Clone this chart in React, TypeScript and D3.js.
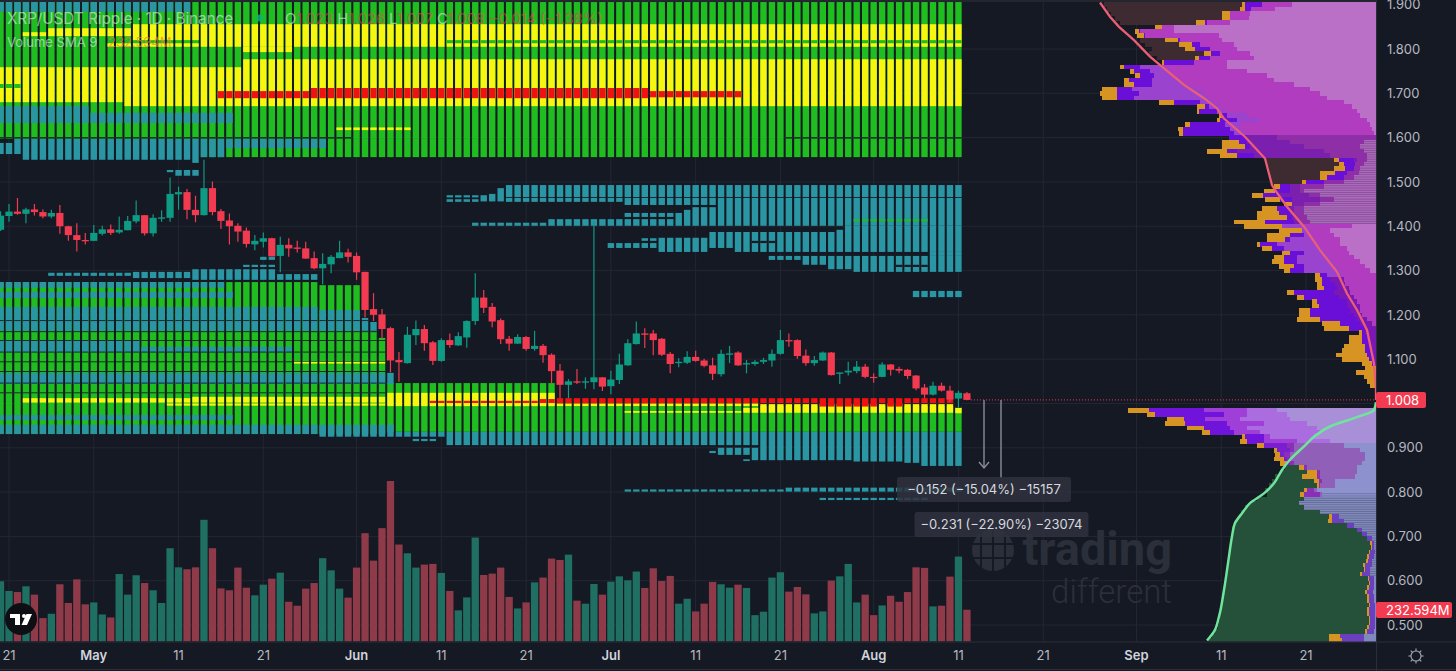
import React from "react";
import * as d3 from "d3";

const firstDay = new Date(Date.UTC(2022, 3, 20));

// open, high, low, close, one row a day from the first visible session
const candles: number[][] = [
[1.392,1.434,1.389,1.424],[1.423,1.450,1.410,1.433],[1.433,1.464,1.426,1.428],[1.428,1.442,1.407,1.438],[1.438,1.450,1.424,1.432],
[1.432,1.438,1.418,1.422],[1.422,1.437,1.418,1.430],[1.430,1.448,1.383,1.400],[1.400,1.401,1.367,1.380],[1.380,1.407,1.343,1.369],
[1.369,1.385,1.359,1.366],[1.367,1.403,1.367,1.385],[1.383,1.401,1.379,1.393],[1.393,1.404,1.380,1.385],[1.386,1.422,1.383,1.392],
[1.391,1.423,1.391,1.412],[1.411,1.458,1.407,1.425],[1.425,1.425,1.379,1.384],[1.384,1.427,1.377,1.419],[1.417,1.436,1.410,1.420],
[1.419,1.510,1.410,1.473],[1.472,1.489,1.437,1.477],[1.477,1.484,1.416,1.437],[1.437,1.469,1.409,1.425],[1.425,1.550,1.424,1.486],
[1.486,1.501,1.425,1.432],[1.434,1.439,1.394,1.412],[1.413,1.429,1.359,1.400],[1.401,1.407,1.365,1.388],[1.390,1.397,1.352,1.360],
[1.359,1.380,1.346,1.367],[1.365,1.386,1.352,1.373],[1.373,1.374,1.332,1.332],[1.333,1.376,1.296,1.358],[1.358,1.373,1.331,1.350],
[1.352,1.367,1.341,1.349],[1.350,1.365,1.326,1.327],[1.328,1.343,1.303,1.305],[1.305,1.339,1.269,1.315],[1.314,1.335,1.294,1.331],
[1.328,1.367,1.328,1.341],[1.341,1.349,1.318,1.331],[1.333,1.341,1.279,1.296],[1.297,1.297,1.194,1.211],[1.213,1.249,1.186,1.200],
[1.201,1.213,1.146,1.168],[1.170,1.173,1.070,1.097],[1.098,1.116,1.049,1.093],[1.091,1.173,1.090,1.155],[1.154,1.187,1.132,1.168],
[1.168,1.177,1.119,1.136],[1.138,1.141,1.087,1.096],[1.096,1.147,1.094,1.143],[1.143,1.158,1.126,1.132],[1.131,1.161,1.130,1.152],
[1.149,1.188,1.126,1.186],[1.186,1.294,1.177,1.239],[1.239,1.256,1.204,1.216],[1.218,1.227,1.172,1.185],[1.188,1.192,1.134,1.145],
[1.146,1.152,1.119,1.135],[1.135,1.156,1.134,1.150],[1.150,1.152,1.119,1.123],[1.123,1.164,1.119,1.130],[1.130,1.134,1.092,1.109],
[1.110,1.113,1.046,1.073],[1.074,1.089,1.012,1.042],[1.042,1.055,1.012,1.050],[1.050,1.078,1.044,1.047],[1.047,1.059,1.033,1.050],
[1.048,1.410,1.032,1.059],[1.059,1.060,1.028,1.038],[1.039,1.074,1.021,1.054],[1.053,1.112,1.044,1.088],[1.086,1.145,1.085,1.136],
[1.134,1.185,1.133,1.158],[1.158,1.170,1.125,1.155],[1.158,1.166,1.109,1.143],[1.146,1.148,1.107,1.110],[1.112,1.116,1.068,1.089],
[1.091,1.102,1.082,1.094],[1.092,1.118,1.089,1.105],[1.105,1.119,1.094,1.096],[1.097,1.101,1.082,1.085],[1.086,1.103,1.053,1.067],
[1.066,1.121,1.061,1.112],[1.110,1.130,1.091,1.113],[1.115,1.118,1.085,1.086],[1.088,1.098,1.068,1.091],[1.089,1.098,1.085,1.094],
[1.094,1.103,1.089,1.098],[1.097,1.122,1.083,1.112],[1.112,1.166,1.110,1.143],[1.143,1.158,1.128,1.140],[1.143,1.145,1.101,1.107],
[1.108,1.122,1.085,1.091],[1.091,1.107,1.085,1.098],[1.097,1.117,1.096,1.115],[1.115,1.116,1.063,1.064],[1.067,1.070,1.044,1.070],
[1.070,1.094,1.063,1.074],[1.073,1.096,1.068,1.083],[1.083,1.089,1.057,1.060],[1.060,1.068,1.047,1.058],[1.060,1.093,1.059,1.088],
[1.088,1.089,1.063,1.076],[1.078,1.083,1.068,1.074],[1.076,1.078,1.055,1.062],[1.063,1.064,1.030,1.034],[1.036,1.044,1.012,1.020],
[1.020,1.049,1.018,1.040],[1.040,1.047,1.027,1.029],[1.029,1.040,1.004,1.009],[1.011,1.029,0.990,1.024],[1.023,1.026,1.007,1.008],
];

// daily volume, millions
const volumes: number[] = [
441,370,362,404,343,171,203,419,282,455,272,286,198,176,494,343,485,428,375,282,683,543,529,543,891,683,389,375,541,394,338,416,460,504,291,262,387,428,610,521,387,321,541,793,592,830,1175,710,646,541,563,568,502,370,228,323,761,487,497,541,326,242,286,433,468,607,597,636,299,277,421,343,438,477,448,512,392,536,443,480,277,313,220,277,436,419,394,416,392,193,218,468,507,365,399,345,206,220,446,477,568,286,343,193,264,335,291,362,543,539,257,262,475,622,232.594,
];

// heatmap bands: colour, top price, bottom price, first day, last day (days after 21 Apr)
const heatBands: [string, number, number, number, number][] = [
["g",1.906,1.597,-1,112],["g",1.597,1.556,23,112],
["t",1.906,1.884,-1,21],
["y",1.838,1.829,2,4],["y",1.847,1.829,5,14],["y",1.856,1.820,15,22],["y",1.813,1.805,12,22],["y",1.856,1.805,23,112],["g",1.820,1.813,52,112],["y",1.805,1.793,28,33],
["y",1.759,1.680,-1,1],["g",1.721,1.712,-1,1],["y",1.759,1.680,2,13],["y",1.759,1.671,14,27],["y",1.777,1.671,28,112],
["r",1.705,1.689,25,35],["r",1.712,1.689,36,75],["r",1.705,1.691,76,86],
["t",1.671,1.633,-1,9],["t",1.656,1.633,10,26],
["b",1.601,1.598,-1,40],["b",1.601,1.598,92,112],
["t",1.597,1.550,2,21],["t",1.588,1.563,-1,0],["t",1.597,1.563,1,1],["t",1.597,1.543,22,22],["t",1.597,1.556,23,25],["t",1.597,1.576,26,37],
["y",1.623,1.617,39,47],
["t",1.527,1.522,19,19],["t",1.527,1.514,20,22],
["t",1.470,1.465,52,55],["t",1.461,1.455,52,55],
["t",1.493,1.466,59,112],["t",1.470,1.456,56,56],["t",1.473,1.456,57,57],["t",1.486,1.456,58,58],
["t",1.464,1.455,59,72],["t",1.464,1.448,73,83],["t",1.464,1.401,84,112],
["t",1.430,1.421,73,78],["t",1.430,1.401,79,79],["t",1.437,1.401,80,80],["t",1.443,1.401,81,83],
["t",1.408,1.401,55,63],["t",1.416,1.401,64,78],
["t",1.374,1.342,77,82],["t",1.387,1.351,83,85],["t",1.387,1.342,86,112],["b",1.367,1.362,88,90],
["t",1.362,1.351,71,76],["t",1.373,1.367,75,76],
["t",1.401,1.387,99,112],["t",1.392,1.387,98,98],["g",1.416,1.411,100,108],
["t",1.333,1.297,100,112],["t",1.342,1.333,109,112],["b",1.313,1.308,105,108],
["t",1.333,1.313,94,96],["t",1.333,1.303,97,99],["t",1.333,1.324,90,93],
["t",1.254,1.240,107,112],
["g",1.274,0.931,-1,36],["g",1.267,0.931,37,41],["g",1.164,0.931,42,43],["t",1.193,1.164,42,42],["t",1.184,1.164,43,43],["g",1.148,0.931,44,44],
["g",1.046,0.936,45,64],["g",0.994,0.936,65,112],
["t",1.274,1.261,-1,25],["t",1.252,1.238,-1,26],["t",1.218,1.164,-1,36],["t",1.211,1.164,37,41],
["t",1.143,1.116,-1,15],["t",1.128,1.116,16,33],["t",1.069,1.044,-1,45],
["t",0.974,0.963,-1,26],["t",0.952,0.931,-1,36],["t",0.952,0.925,37,45],["t",0.936,0.925,46,51],["t",0.920,0.915,48,50],["t",0.936,0.906,52,86],["t",0.936,0.906,87,88],
["b",1.188,1.186,-1,44],["b",1.163,1.161,-1,44],["b",1.143,1.141,-1,44],["b",1.117,1.115,-1,44],["b",1.095,1.093,-1,44],["b",1.073,1.071,-1,44],["b",1.047,1.045,-1,44],["b",1.025,1.023,-1,44],
["y",1.012,1.002,2,21],["y",1.015,1.002,22,44],["y",1.000,0.995,19,44],["y",1.024,0.994,45,64],["y",1.094,1.090,34,44],
["r",1.006,1.001,50,62],["r",1.010,1.001,63,64],["r",1.012,1.001,65,111],
["y",1.000,0.994,65,88],["y",0.9985,0.979,89,111],["y",0.983,0.979,73,86],["y",0.990,0.979,87,88],["r",1.001,0.993,96,102],["r",1.001,0.993,104,105],
["b",1.012,0.990,112,112],["y",0.990,0.978,112,112],
["t",0.936,0.872,89,99],["t",0.936,0.869,100,105],["t",0.936,0.866,106,107],["t",0.936,0.859,108,112],
["t",0.893,0.888,83,83],["t",0.900,0.884,84,87],["t",0.900,0.872,88,88],["t",0.874,0.870,87,87],
["t",1.295,1.288,5,14],["t",1.297,1.283,15,21],["t",1.303,1.279,22,31],["t",1.292,1.279,32,36],["t",1.313,1.308,28,31],["t",1.331,1.324,30,31],
["t",0.806,0.801,73,91],["t",0.810,0.801,92,112],["t",0.787,0.782,96,108],
];

// volume profile above price: level, then extents of brown, orange, purple, violet, magenta, light
const upperProfile: number[][] = [
[1.90,272,134,131,114,114,84],[1.89,269,136,131,125,125,101],[1.88,265,154,146,146,146,126],[1.87,261,154,146,146,146,127],[1.86,256,180,171,169,169,146],
[1.85,0,221,214,214,214,202],[1.84,0,241,237,236,236,202],[1.83,0,239,232,231,231,157],[1.82,236,211,198,196,196,154],[1.81,231,197,184,176,176,142],
[1.80,224,191,181,166,166,139],[1.79,227,172,165,156,156,126],[1.78,219,181,177,166,166,122],[1.77,0,214,212,182,182,149],[1.76,0,256,252,236,212,149],
[1.75,0,246,242,226,206,129],[1.74,0,241,236,222,206,109],[1.73,0,252,247,224,196,102],[1.72,0,252,242,224,191,82],[1.71,0,274,259,244,179,66],
[1.70,0,276,259,237,172,56],[1.69,0,274,259,242,167,49],[1.68,0,217,202,176,162,32],[1.67,0,179,171,167,156,24],[1.66,0,179,177,159,151,19],
[1.65,0,157,154,149,129,16],[1.64,0,159,156,139,116,9],[1.63,0,191,186,151,136,6],[1.62,0,198,193,146,136,4],[1.61,0,197,193,142,131,2],
[1.60,0,147,147,129,99,0],[1.59,0,154,137,129,86,12],[1.58,0,154,131,126,72,16],[1.57,0,169,149,139,52,12],[1.56,0,156,139,122,46,9],
[1.55,111,42,37,22,19,9],[1.54,109,37,32,21,21,12],[1.53,107,42,31,22,22,16],[1.52,106,56,41,29,29,17],[1.51,106,56,49,32,32,22],
[1.50,104,74,70,52,52,32],[1.49,0,102,96,86,76,52],[1.48,0,112,101,86,76,72],[1.47,0,124,113,96,67,56],[1.46,0,111,96,84,56,42],
[1.45,0,92,84,84,72,56],[1.44,0,114,99,86,82,72],[1.43,0,119,97,86,82,72],[1.42,0,119,89,84,81,69],[1.41,0,142,111,82,77,66],
[1.40,0,132,94,94,72,24],[1.39,0,97,74,74,66,46],[1.38,0,109,86,72,69,42],[1.37,0,109,91,86,62,36],[1.36,0,119,116,99,59,36],
[1.35,0,114,104,92,54,29],[1.34,0,94,86,72,51,27],[1.33,0,102,92,79,47,22],[1.32,0,104,92,79,44,16],[1.31,0,97,82,72,41,11],
[1.30,0,92,86,72,37,6],[1.29,0,61,56,49,34,0],[1.28,0,61,54,46,32,0],[1.27,0,59,54,41,31,0],[1.26,0,59,52,39,27,0],
[1.25,0,89,82,42,26,0],[1.24,0,79,72,37,22,0],[1.23,0,64,59,29,19,0],[1.22,0,64,57,29,16,0],[1.21,0,77,66,26,16,0],
[1.20,0,77,66,22,14,0],[1.19,0,79,56,19,9,0],[1.18,0,54,36,16,4,0],[1.17,0,52,27,12,0,0],[1.16,0,17,14,11,0,0],
[1.15,0,27,14,9,0,0],[1.14,0,27,14,7,0,0],[1.13,0,32,11,6,0,0],[1.12,0,34,11,4,0,0],[1.11,0,40,9,3,0,0],
[1.10,0,34,7,2,0,0],[1.09,0,14,4,1,0,0],[1.08,0,11,0,0,0,0],[1.07,0,20,0,0,0,0],[1.06,0,12,0,0,0,0],
[1.05,0,9,0,0,0,0],[1.04,0,6,0,0,0,0],[1.03,0,1,0,0,0,0],
];

// volume profile below price: level, then extents of green, orange, purple, violet, orchid, lavender
const lowerProfile: number[][] = [
[0.99,0,248,227,172,129,99],[0.98,0,229,221,152,129,89],[0.97,0,209,192,171,136,86],[0.96,0,211,191,149,112,69],[0.95,0,189,172,146,129,59],
[0.94,0,174,166,142,116,56],[0.93,0,134,131,112,106,62],[0.92,0,136,129,112,79,46],[0.91,0,119,112,89,82,32],[0.90,0,102,99,86,82,16],
[0.89,0,101,96,92,86,11],[0.88,0,102,92,89,86,11],[0.87,0,96,89,86,82,14],[0.86,91,77,72,72,69,19],[0.85,96,69,59,59,56,19],
[0.84,101,74,59,59,56,21],[0.83,104,62,57,57,54,41],[0.82,107,59,57,57,56,41],[0.81,111,72,69,69,62,59],[0.80,109,76,72,72,56,54],
[0.79,119,0,0,0,0,72],[0.78,126,0,0,0,0,77],[0.77,131,0,0,0,0,72],[0.76,135,0,0,0,0,56],[0.75,137,47,44,44,44,37],
[0.74,140,48,44,44,44,32],[0.73,142,0,29,29,29,22],[0.72,143,0,19,19,19,14],[0.71,143,0,14,14,14,9],[0.70,144,0,9,9,9,4],
[0.69,145,6,4,4,4,2],[0.68,145,5,4,4,4,2],[0.67,146,7,6,6,6,1],[0.66,147,9,7,7,7,2],[0.65,147,10,8,8,8,4],
[0.64,148,13,11,11,11,4],[0.63,149,12,11,11,11,6],[0.62,150,16,14,14,14,6],[0.61,151,8,7,7,7,2],[0.60,151,7,6,6,6,2],
[0.59,152,9,7,7,7,2],[0.58,152,11,9,9,9,3],[0.57,153,9,7,7,7,2],[0.56,154,9,7,7,7,2],[0.55,155,7,6,6,6,1],
[0.54,155,9,7,7,7,1],[0.53,156,9,7,7,7,1],[0.52,156,7,6,6,6,1],[0.51,157,7,6,6,6,1],[0.50,158,9,7,7,7,1],
[0.49,161,11,9,9,9,2],[0.48,164,47,36,36,36,12],[0.47,168,47,34,34,34,12],
];

const upperCurvePrice = [1.905,1.873,1.850,1.820,1.783,1.760,1.719,1.689,1.666,1.643,1.602,1.553,1.493,1.482,1.444,1.399,1.346,1.297,1.248,1.211,1.166,1.090,1.034,1.008];
const upperCurveWidth = [276,266,257,242,226,214,192,172,159,152,131,111,104,101,89,72,56,39,29,19,9,2,0,0];
const lowerCurvePrice = [1.003,0.985,0.967,0.948,0.925,0.903,0.873,0.850,0.820,0.797,0.775,0.752,0.730,0.700,0.655,0.579,0.519,0.485,0.465];
const lowerCurveWidth = [0,2,22,46,62,72,86,94,102,112,126,134,141,144,147,152,157,162,169];

const priceTicks = [1.9,1.8,1.7,1.6,1.5,1.4,1.3,1.2,1.1,0.9,0.8,0.7,0.6,0.5];
const gridPrices = [1.8,1.7,1.6,1.5,1.4,1.3,1.2,1.1,1.0,0.9,0.8,0.7,0.6,0.5];
const timeOffsets = [0,10,20,30,41,51,61,71,81,91,102,112,122,133,143,153];
const timeLabels = ["21","May","11","21","Jun","11","21","Jul","11","21","Aug","11","21","Sep","11","21"];
const monthLabels = ["May","Jun","Jul","Aug","Sep"];
const lastPrice = 1.008;
const lastVolumeLabel = "232.594M";
const measureLabels = ["−0.152 (−15.04%) −15157","−0.231 (−22.90%) −23074"];

const W = 1456, H = 671, AXIS_X = 1376, AXIS_Y = 641.5;
const BG = "#151924";
const GRID = "#232733";
const FONT = "Inter, 'Noto Sans', sans-serif";
const HEAT: Record<string, string> = { g: "#1fbd1f", y: "#f6f60e", r: "#ee1212", t: "#2a96a3", b: BG };

const dayAt = (k: number) => d3.utcDay.offset(firstDay, k + 1);
const x = d3.scaleUtc().domain([dayAt(0), dayAt(153)]).range([9, 1306]);
const y = d3.scaleLinear().domain([1.9, 0.5]).range([4.7, 625]);
const vol = d3.scaleLinear().domain([0, 1175]).range([AXIS_Y, 481]);
const prof = d3.scaleLinear().domain([0, 276]).range([AXIS_X, 1100]);
const fmtPrice = d3.format(".3f");

const upperColors = (p: number) => {
  const dim = p <= 1.6 && p > 1.4;
  return ["#3e2a31", "#d89422", "#6a0fd8", dim ? "#7a1fae" : p < 1.29 ? "#7a18b4" : "#9a43cf", dim ? "#8f2fa8" : "#b23cc0", dim ? "#ad68bd" : "#bb70c8"];
};
const lowerColors = (p: number) =>
  p >= 0.92
    ? ["#25503a", "#d89422", "#7014dc", "#a03fd8", "#ab6ce0", "#a98fd8"]
    : p >= 0.8
    ? ["#25503a", "#d89422", "#7a1fd0", "#8a30b8", "#9060b8", "#8d92cf"]
    : ["#25503a", "#d89422", "#6a3fc0", "#6a3fc0", "#6a3fc0", "#8089bb"];

const stripeUpper = (p: number) => p <= 1.6 && p >= 1.41;
const stripeLower = (p: number) => p <= 0.8 && p >= 0.62;

function ProfileRows({ rows, colors, offset, stripe }: { rows: number[][]; colors: (p: number) => string[]; offset: number; stripe: (p: number) => boolean }) {
  const rowH = Math.abs(y(0.99) - y(1.0));
  return (
    <g>
      {rows.map((r) => {
        const top = y(r[0] + offset);
        const cols = colors(r[0]);
        const last = r[6];
        return (
          <g key={r[0]}>
            {r.slice(1).map((w, i) =>
              w > 0 ? <rect key={i} x={prof(w)} y={top} width={AXIS_X - prof(w)} height={rowH + 0.4} fill={cols[i]} shapeRendering="crispEdges" /> : null
            )}
            {stripe(r[0]) && last > 0
              ? [0.3, 0.8].map((f) => (
                  <rect key={f} x={prof(last)} y={top + rowH * f} width={AXIS_X - prof(last)} height={0.7} fill={BG} opacity={0.32} />
                ))
              : null}
          </g>
        );
      })}
    </g>
  );
}

export default function App() {
  const upperLine = d3.line<number>().x((w) => prof(w)).y((_, i) => y(upperCurvePrice[i]))(upperCurveWidth) || "";
  const lowerLine = d3.line<number>().curve(d3.curveMonotoneY).x((w) => prof(w)).y((_, i) => y(lowerCurvePrice[i]))(lowerCurveWidth) || "";
  const lastX = x(dayAt(candles.length - 2));
  return (
    <svg width={W} height={H} viewBox={`0 0 ${W} ${H}`} style={{ position: "absolute", left: 0, top: 0, display: "block", background: BG }} fontFamily={FONT}>
      <defs>
        <clipPath id="plot"><rect x={0} y={2} width={AXIS_X} height={AXIS_Y - 2} /></clipPath>
      </defs>
      <rect x={0} y={0} width={W} height={2} fill="#23262f" />

      {timeOffsets.map((k) => (
        <line key={k} x1={x(dayAt(k))} x2={x(dayAt(k))} y1={2} y2={AXIS_Y} stroke={GRID} />
      ))}
      {gridPrices.map((p) => (
        <line key={p} x1={0} x2={AXIS_X} y1={y(p)} y2={y(p)} stroke={GRID} />
      ))}

      {/* watermark */}
      <g fill="#2b2f3a">
        <circle cx={993} cy={550} r={21} />
        <g stroke={BG} strokeWidth={2}>
          <line x1={981} x2={981} y1={533} y2={567} />
          <line x1={993} x2={993} y1={529} y2={571} />
          <line x1={1005} x2={1005} y1={533} y2={567} />
          <line x1={973} x2={1013} y1={544} y2={544} />
          <line x1={973} x2={1013} y1={558} y2={558} />
        </g>
        <text x={1172} y={565} textAnchor="end" fontSize={47} fontWeight={700} fontFamily="Roboto, sans-serif">trading</text>
        <text x={1172} y={603} textAnchor="end" fontSize={33} fontWeight={300} fontFamily="Roboto, sans-serif">different</text>
      </g>

      <g clipPath="url(#plot)">
        {/* heatmap */}
        {heatBands.map((b, i) =>
          d3.range(b[3], b[4] + 1).map((k) => (
            <rect key={`${i}-${k}`} x={x(dayAt(k)) - 3.2} y={y(b[1])} width={6.4} height={Math.max(0.5, y(b[2]) - y(b[1]))} fill={HEAT[b[0]]} />
          ))
        )}

        {/* volume */}
        {volumes.map((v, i) => {
          const up = candles[i][3] >= candles[i][0];
          return <rect key={i} x={x(dayAt(i - 1)) - 3.65} y={vol(v)} width={7.3} height={AXIS_Y - vol(v)} fill={up ? "#1f6f63" : "#8f3a49"} />;
        })}

        {/* candles */}
        {candles.map((c, i) => {
          const cx = x(dayAt(i - 1));
          const [o, h, l, cl] = c;
          const color = cl >= o ? "#0f9a84" : "#f23b50";
          const top = y(Math.max(o, cl));
          const bh = Math.max(1.2, Math.abs(y(o) - y(cl)));
          return (
            <g key={i}>
              <line x1={cx} x2={cx} y1={y(h)} y2={y(l)} stroke={color} strokeWidth={1.2} />
              <rect x={cx - 3.6} y={top} width={7.2} height={bh} fill={color} />
            </g>
          );
        })}

        {/* volume profile */}
        <ProfileRows rows={upperProfile} colors={upperColors} offset={0.005} stripe={stripeUpper} />
        <ProfileRows rows={lowerProfile} colors={lowerColors} offset={0} stripe={stripeLower} />
        <path d={upperLine} fill="none" stroke="#ea5f74" strokeWidth={2.3} />
        <path d={lowerLine} fill="none" stroke="#6fe59b" strokeWidth={2.5} />

        {/* last price line */}
        <line x1={lastX + 4} x2={AXIS_X} y1={y(lastPrice)} y2={y(lastPrice)} stroke="#f23b50" strokeWidth={1} strokeDasharray="1 2" />
      </g>

      {/* measuring arrows and labels */}
      <g stroke="#8a8e99" strokeWidth={1.4} fill="none">
        <line x1={984} x2={984} y1={y(lastPrice)} y2={467} />
        <path d="M979 462 L984 468 L989 462" />
        <line x1={1001} x2={1001} y1={y(lastPrice)} y2={478} />
      </g>
      <rect x={897} y={477} width={174} height={25} rx={3} fill="#2f333e" opacity={0.85} />
      <text x={984} y={494} textAnchor="middle" fontSize={13} fill="#d6d8de">{measureLabels[0]}</text>
      <rect x={914.5} y={512} width={174} height={25} rx={3} fill="#2f333e" opacity={0.85} />
      <text x={1001.5} y={529} textAnchor="middle" fontSize={13} fill="#d6d8de">{measureLabels[1]}</text>

      {/* legend */}
      <g fontSize={15.2} fill="#e8ecef" fillOpacity={0.62}>
        <text x={7} y={24}>XRP/USDT Ripple · 1D · Binance</text>
        <text x={7} y={47} fontSize={13}>Volume SMA 9</text>
      </g>
      <circle cx={260} cy={18} r={3.5} fill="#0fb27a" opacity={0.8} />
      <text x={285} y={24} fontSize={14.6} fillOpacity={0.6} fill="#e8ecef">
        O<tspan fill="#f23b50">1.023</tspan> H<tspan fill="#f23b50">1.026</tspan> L<tspan fill="#f23b50">1.007</tspan> C<tspan fill="#f23b50">1.008</tspan>
        <tspan fill="#f23b50"> −0.014 (−1.38%)</tspan>
      </text>
      <text x={108} y={47} fontSize={13} fill="#f0803a" fillOpacity={0.7}>{lastVolumeLabel}</text>

      {/* TradingView logo */}
      <circle cx={21} cy={619} r={16} fill="#0d0f14" />
      <g fill="#fff">
        <path d="M10 614 H20 V625 H15 V618 H10 Z" />
        <circle cx={24} cy={616} r={2} />
        <path d="M26.5 614 H32 L27 625 H21.5 Z" />
      </g>

      {/* axes */}
      <rect x={AXIS_X} y={0} width={W - AXIS_X} height={H} fill={BG} />
      <rect x={0} y={AXIS_Y + 0.5} width={AXIS_X} height={H - AXIS_Y} fill={BG} />
      <line x1={AXIS_X + 0.5} x2={AXIS_X + 0.5} y1={0} y2={H} stroke="#2a2e39" />
      <line x1={0} x2={W} y1={AXIS_Y + 0.5} y2={AXIS_Y + 0.5} stroke="#2a2e39" />
      <line x1={0} x2={W} y1={669.5} y2={669.5} stroke="#2a2e39" />
      {priceTicks.map((p) => (
        <text key={p} x={1387} y={y(p)} dy="0.36em" fontSize={13} fill="#b5b8c0">{fmtPrice(p)}</text>
      ))}
      {timeOffsets.map((k, i) => {
        const bold = monthLabels.includes(timeLabels[i]);
        return (
          <text key={k} x={x(dayAt(k))} y={660} textAnchor="middle" fontSize={13} fontWeight={bold ? 600 : 400} fill={bold ? "#d1d4dc" : "#b5b8c0"}>{timeLabels[i]}</text>
        );
      })}
      <rect x={1376} y={392} width={50} height={16} rx={2} fill="#f23b50" />
      <text x={1386} y={y(lastPrice)} dy="0.36em" fontSize={13} fill="#fff">{fmtPrice(lastPrice)}</text>
      <rect x={1376} y={602} width={76} height={16} rx={2} fill="#f23b50" />
      <text x={1386} y={610} dy="0.36em" fontSize={13} fill="#fff">{lastVolumeLabel}</text>

      {/* settings icon */}
      <g stroke="#a6a9b2" strokeWidth={1.1} fill="none">
        <circle cx={1416} cy={656} r={5} />
        {d3.range(0, 360, 45).map((a) => (
          <line key={a} x1={1416 + 5 * Math.cos((a * Math.PI) / 180)} y1={656 + 5 * Math.sin((a * Math.PI) / 180)} x2={1416 + 7.5 * Math.cos((a * Math.PI) / 180)} y2={656 + 7.5 * Math.sin((a * Math.PI) / 180)} />
        ))}
      </g>
    </svg>
  );
}
